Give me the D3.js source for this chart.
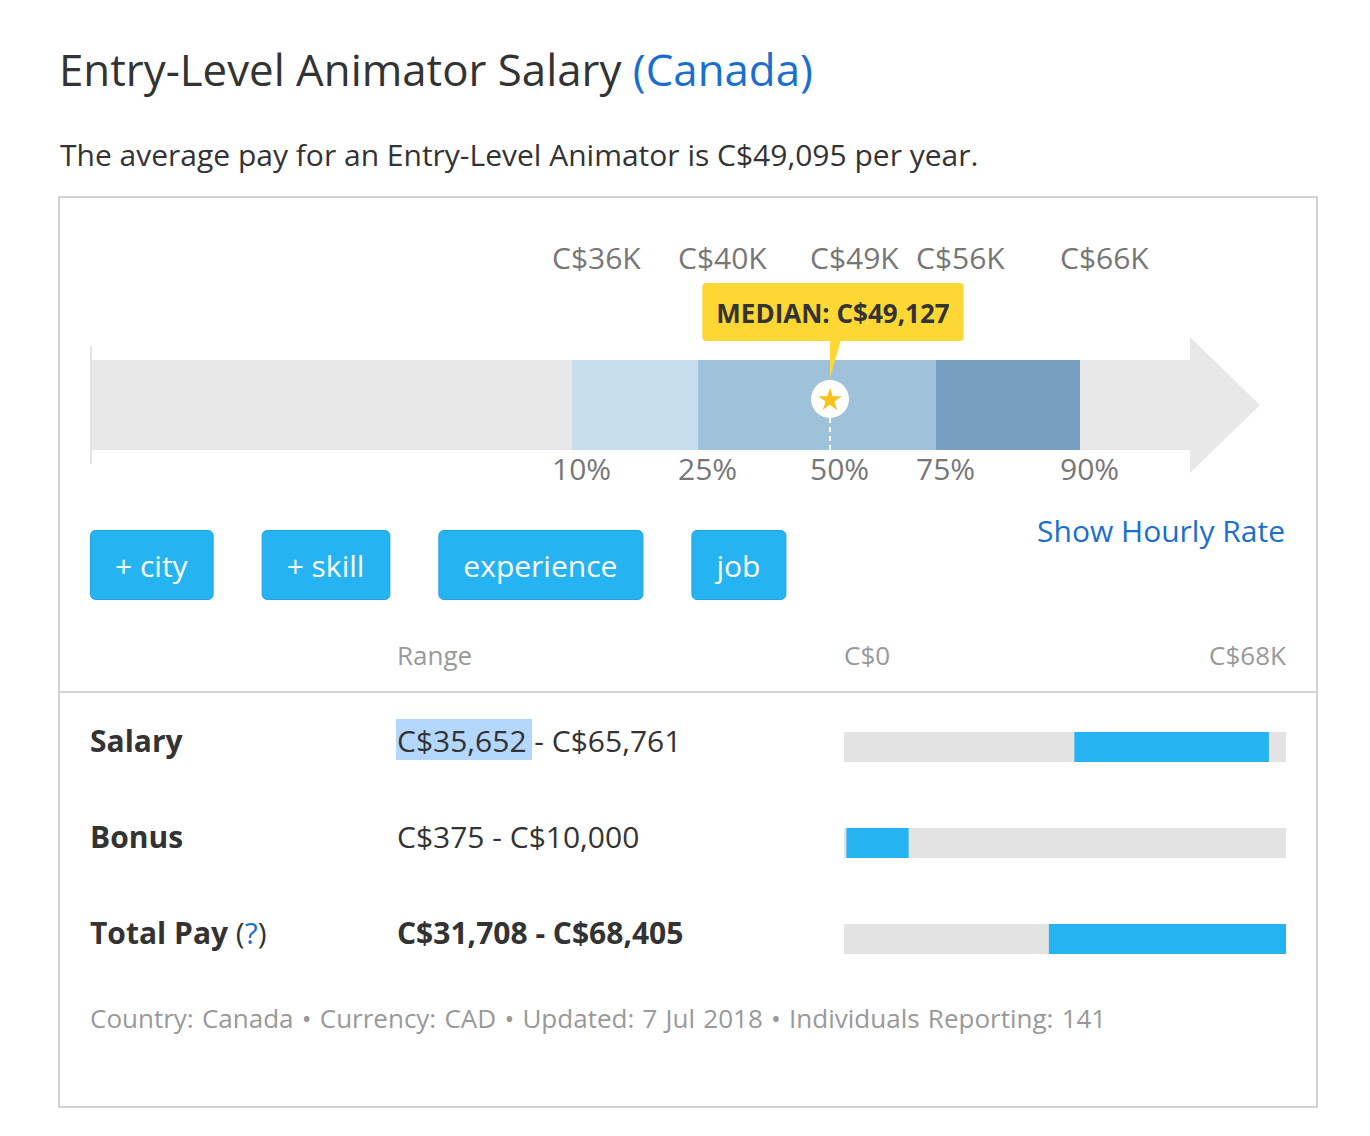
<!DOCTYPE html>
<html>
<head>
<meta charset="utf-8">
<script src="https://cdn.jsdelivr.net/npm/d3@7"></script>
<style>
  html, body { margin: 0; padding: 0; background: #fff; }
  svg { display: block; font-family: "Open Sans", "Noto Sans", sans-serif; }
</style>
</head>
<body>
<svg id="chart" width="1370" height="1136"></svg>
<script>
// ---------- data ----------
const jobTitle = "Entry-Level Animator";
const country = "Canada";
const averagePay = 49095;
const percentiles = ["10%", "25%", "50%", "75%", "90%"];
const percentileValues = [35652, 40000, 49127, 56000, 65761];
const medianValue = 49127;
const buttonLabels = ["+ city", "+ skill", "experience", "job"];
const rowLabels = ["Salary", "Bonus", "Total Pay"];
const rangeLow = [35652, 375, 31708];
const rangeHigh = [65761, 10000, 68405];
const footerItems = ["Country: Canada", "Currency: CAD", "Updated: 7 Jul 2018", "Individuals Reporting: 141"];

// ---------- layout ----------
const svg = d3.select("#chart");
const money = d => "C$" + d3.format(",")(d);
const moneyK = d => "C$" + Math.round(d / 1000) + "K";

// title
const title = svg.append("text").attr("x", 59).attr("y", 86)
  .attr("font-size", 43.8).attr("fill", "#333");
title.append("tspan").text(jobTitle + " Salary ");
title.append("tspan").attr("fill", "#1a6fce").text("(" + country + ")");

svg.append("text").attr("x", 60).attr("y", 166).attr("font-size", 30).attr("fill", "#333")
  .text(`The average pay for an ${jobTitle} is ${money(averagePay)} per year.`);

// box
svg.append("rect").attr("x", 59).attr("y", 197).attr("width", 1258).attr("height", 910)
  .attr("fill", "none").attr("stroke", "#d3d3d3").attr("stroke-width", 2);

// ---------- percentile bar ----------
const barLeft = 90, barRight = 1190, barTop = 360, barBottom = 450;
// PayScale places percentile markers on a piecewise-linear scale
const px = d3.scaleLinear().domain(percentileValues).range([572, 698, 830, 936, 1080]);

// background arrow
const arrowHalf = 68, arrowLen = 70, midY = (barTop + barBottom) / 2;
svg.append("path")
  .attr("d", `M${barLeft},${barTop}H${barRight}V${midY - arrowHalf}L${barRight + arrowLen},${midY}L${barRight},${midY + arrowHalf}V${barBottom}H${barLeft}Z`)
  .attr("fill", "#e8e8e8");
svg.append("line").attr("x1", barLeft + 1).attr("x2", barLeft + 1)
  .attr("y1", barTop - 14).attr("y2", barBottom + 14)
  .attr("stroke", "#e3e3e3").attr("stroke-width", 2);

const segColors = ["#c5dded", "#9fc2db", "#9fc2db", "#789fc0"];
const segs = d3.pairs(percentileValues);
svg.selectAll("rect.seg").data(segs).join("rect").attr("class", "seg")
  .attr("x", d => px(d[0])).attr("width", d => px(d[1]) - px(d[0]))
  .attr("y", barTop).attr("height", barBottom - barTop)
  .attr("fill", (d, i) => segColors[i]);

// value labels above and percent labels below
svg.selectAll("text.val").data(percentileValues).join("text").attr("class", "val")
  .attr("x", d => px(d) - 20).attr("y", 269).attr("font-size", 30).attr("fill", "#777")
  .text(d => moneyK(d));
svg.selectAll("text.pct").data(percentiles).join("text").attr("class", "pct")
  .attr("x", (d, i) => px(percentileValues[i]) - 20).attr("y", 480).attr("font-size", 30).attr("fill", "#777")
  .text(d => d);

// median marker
const mx = px(medianValue), my = 399, mr = 19;
svg.append("line").attr("x1", mx).attr("x2", mx).attr("y1", my + mr).attr("y2", barBottom)
  .attr("stroke", "#fff").attr("stroke-width", 2).attr("stroke-dasharray", "5,4");
svg.append("circle").attr("cx", mx).attr("cy", my).attr("r", mr).attr("fill", "#fff");
svg.append("path").attr("d", d3.symbol(d3.symbolStar).size(170)())
  .attr("transform", `translate(${mx},${my + 1})`).attr("fill", "#f6c21c");

// callout
const callout = svg.append("g");
const cText = callout.append("text").attr("x", mx + 3).attr("y", 323).attr("text-anchor", "middle")
  .attr("font-size", 26).attr("font-weight", 700).attr("fill", "#333")
  .text("MEDIAN: " + money(medianValue));
const cw = cText.node().getComputedTextLength() + 28;
callout.insert("rect", "text").attr("x", mx + 3 - cw / 2).attr("y", 283).attr("width", cw).attr("height", 58)
  .attr("rx", 4).attr("fill", "#fdd835");
callout.insert("path", "text").attr("d", `M${mx},340L${mx + 11},340L${mx},378Z`).attr("fill", "#fdd835");

// ---------- buttons ----------
let bx = 90;
buttonLabels.forEach(lbl => {
  const g = svg.append("g");
  const t = g.append("text").attr("y", 577).attr("font-size", 30).attr("fill", "#fff")
    .attr("text-anchor", "middle").text(lbl);
  const w = t.node().getComputedTextLength() + 50;
  g.insert("rect", "text").attr("x", bx + 0.5).attr("y", 530.5).attr("width", w).attr("height", 69)
    .attr("rx", 5).attr("fill", "#25b3f2").attr("stroke", "#1fa3e0").attr("stroke-width", 1);
  t.attr("x", bx + w / 2);
  bx += w + 49;
});

svg.append("text").attr("x", 1285).attr("y", 542).attr("text-anchor", "end")
  .attr("font-size", 30).attr("fill", "#1a6fce").text("Show Hourly Rate");

// ---------- range table ----------
const rx = d3.scaleLinear().domain([0, d3.max(rangeHigh)]).range([844, 1286]);
svg.append("text").attr("x", 397).attr("y", 665).attr("font-size", 26).attr("fill", "#999").text("Range");
svg.append("text").attr("x", rx(0)).attr("y", 665).attr("font-size", 26).attr("fill", "#999").text(moneyK(0).replace("K", ""));
svg.append("text").attr("x", rx.range()[1]).attr("y", 665).attr("text-anchor", "end")
  .attr("font-size", 26).attr("fill", "#999").text(moneyK(d3.max(rangeHigh)));
svg.append("line").attr("x1", 59).attr("x2", 1317).attr("y1", 692).attr("y2", 692)
  .attr("stroke", "#d3d3d3").attr("stroke-width", 2);

const rowY = d3.scalePoint().domain(rowLabels).range([747, 939]);

// selection highlight on first salary value (as in the screenshot)
svg.append("rect").attr("x", 396).attr("y", 719).attr("width", 136).attr("height", 41).attr("fill", "#b4d7fd");

rowLabels.forEach((lbl, i) => {
  const y = rowY(lbl);
  const bold = i === 2;
  const lt = svg.append("text").attr("x", 90).attr("y", y + 5).attr("font-size", 30)
    .attr("font-weight", 700).attr("fill", "#333");
  lt.append("tspan").text(lbl);
  if (lbl === "Total Pay") {
    lt.append("tspan").attr("font-weight", 400).text(" (");
    lt.append("tspan").attr("font-weight", 400).attr("fill", "#1a6fce").text("?");
    lt.append("tspan").attr("font-weight", 400).text(")");
  }
  svg.append("text").attr("x", 397).attr("y", y + 5).attr("font-size", 30)
    .attr("font-weight", bold ? 700 : 400).attr("fill", "#333")
    .text(money(rangeLow[i]) + " - " + money(rangeHigh[i]));
  svg.append("rect").attr("x", rx(0)).attr("width", rx.range()[1] - rx(0))
    .attr("y", y - 15).attr("height", 30).attr("fill", "#e3e3e3");
  svg.append("rect").attr("x", rx(rangeLow[i])).attr("width", rx(rangeHigh[i]) - rx(rangeLow[i]))
    .attr("y", y - 15).attr("height", 30).attr("fill", "#25b3f2");
});

// ---------- footer ----------
svg.append("text").attr("x", 90).attr("y", 1028).attr("font-size", 26).attr("fill", "#999")
  .attr("word-spacing", 1.5)
  .text(footerItems.join(" \u2022 "));
</script>
</body>
</html>
